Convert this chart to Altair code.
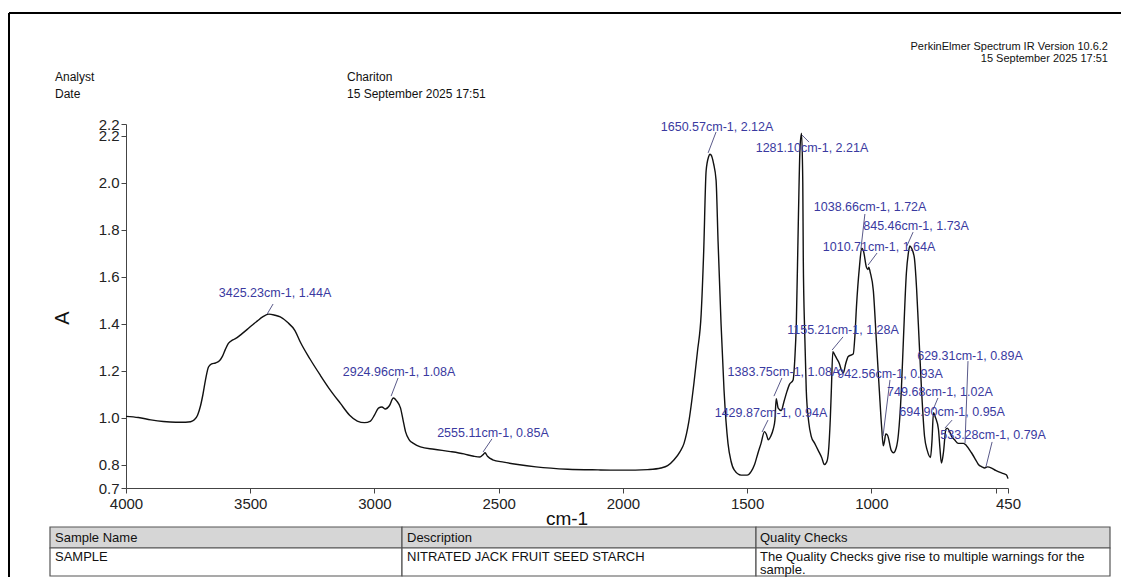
import altair as alt
import pandas as pd

# ---------------- spectrum (wavenumber cm-1, absorbance A) ----------------
wavenumber = [
    4000, 3950, 3900, 3850, 3800, 3760, 3740, 3725, 3712, 3700, 3690, 3680, 3668, 3655,
    3640, 3625, 3612, 3600, 3588, 3570, 3553, 3535, 3512, 3490, 3472, 3450, 3425, 3400,
    3379, 3350, 3320, 3298, 3260, 3218, 3180, 3137, 3100, 3069, 3040, 3016, 3000, 2984,
    2970, 2956, 2940, 2924, 2910, 2895, 2885, 2875, 2860, 2843, 2815, 2760, 2694, 2640,
    2600, 2575, 2560, 2555, 2545, 2524, 2480, 2423, 2350, 2222, 2100, 2020, 1950, 1900,
    1847, 1820, 1794, 1770, 1754, 1735, 1714, 1700, 1685, 1675, 1665, 1655, 1650, 1645,
    1635, 1625, 1617, 1605, 1593, 1577, 1565, 1552, 1524, 1500, 1484, 1470, 1456, 1444,
    1430, 1423, 1415, 1405, 1395, 1388, 1383, 1375, 1363, 1351, 1340, 1330, 1315, 1308,
    1302, 1294, 1287, 1281, 1276, 1274, 1268, 1262, 1252, 1242, 1228, 1214, 1200, 1189,
    1180, 1173, 1165, 1161, 1155, 1149, 1139, 1129, 1120, 1113, 1103, 1093, 1073, 1066,
    1060, 1048, 1039, 1032, 1020, 1014, 1010, 1005, 992, 980, 968, 958, 952, 947,
    942, 935, 920, 911, 900, 891, 880, 871, 859, 851, 845, 838, 827, 818,
    811, 798, 786, 775, 762, 756, 750, 742, 730, 724, 718, 710, 700, 695,
    685, 677, 665, 650, 629, 617, 597, 580, 569, 555, 544, 533, 516, 500,
    476, 465, 456, 450,
]
absorbance = [
    1.005, 1.000, 0.990, 0.983, 0.980, 0.980, 0.982, 0.990, 1.010, 1.050, 1.100, 1.160, 1.215, 1.228,
    1.232, 1.240, 1.260, 1.290, 1.315, 1.330, 1.340, 1.355, 1.375, 1.395, 1.410, 1.428, 1.440, 1.435,
    1.428, 1.405, 1.370, 1.320, 1.250, 1.180, 1.120, 1.060, 1.010, 0.985, 0.978, 0.985, 1.010, 1.040,
    1.045, 1.036, 1.050, 1.083, 1.070, 1.040, 0.990, 0.940, 0.905, 0.890, 0.875, 0.865, 0.855, 0.845,
    0.835, 0.832, 0.845, 0.850, 0.835, 0.820, 0.810, 0.800, 0.790, 0.780, 0.777, 0.776, 0.776, 0.778,
    0.785, 0.795, 0.820, 0.855, 0.890, 0.980, 1.147, 1.280, 1.440, 1.700, 2.050, 2.110, 2.120, 2.117,
    2.080, 2.010, 1.750, 1.400, 1.117, 0.890, 0.815, 0.777, 0.755, 0.755, 0.770, 0.800, 0.850, 0.890,
    0.940, 0.930, 0.905, 0.920, 0.950, 0.990, 1.080, 1.040, 1.030, 1.070, 1.110, 1.140, 1.160, 1.250,
    1.400, 1.830, 2.150, 2.210, 2.000, 1.680, 1.350, 1.117, 0.980, 0.920, 0.890, 0.860, 0.830, 0.800,
    0.810, 0.850, 1.000, 1.117, 1.280, 1.270, 1.250, 1.230, 1.200, 1.190, 1.230, 1.260, 1.270, 1.350,
    1.470, 1.640, 1.720, 1.710, 1.640, 1.630, 1.640, 1.620, 1.540, 1.330, 1.117, 0.950, 0.880, 0.900,
    0.930, 0.925, 0.860, 0.850, 0.870, 0.930, 1.100, 1.330, 1.615, 1.700, 1.730, 1.720, 1.680, 1.550,
    1.400, 1.117, 0.920, 0.860, 0.830, 0.900, 1.020, 1.000, 0.950, 0.870, 0.806, 0.850, 0.950, 0.955,
    0.940, 0.920, 0.905, 0.890, 0.890, 0.880, 0.850, 0.820, 0.800, 0.790, 0.785, 0.790, 0.785, 0.775,
    0.764, 0.760, 0.755, 0.740,
]

# ---------------- labelled peaks ----------------
peak_wn = [3425.23, 2924.96, 2555.11, 1650.57, 1281.10, 1038.66, 845.46, 1010.71,
           1155.21, 1383.75, 942.56, 629.31, 749.68, 694.90, 533.28, 1429.87]
peak_abs = [1.44, 1.08, 0.85, 2.12, 2.21, 1.72, 1.73, 1.64,
            1.28, 1.08, 0.93, 0.89, 1.02, 0.95, 0.79, 0.94]
# label anchor (data units)
label_wn = [3400, 2901, 2523, 1621, 1239, 1005, 820, 969,
            1114, 1352, 925, 603, 724, 675, 510, 1404]
label_abs = [1.530, 1.194, 0.934, 2.236, 2.147, 1.896, 1.815, 1.726,
             1.372, 1.194, 1.185, 1.262, 1.109, 1.023, 0.926, 1.019]
# leader lines (data units)
lead_x1 = [3408, 2905, 2527, 1625, 1279, 1026, 832, 977, 1114, 1360, 925, 611, 732, 675, 514, 1416]
lead_y1 = [1.483, 1.168, 0.909, 2.215, 2.202, 1.866, 1.789, 1.700, 1.343, 1.168, 1.160, 1.240, 1.083, 0.989, 0.896, 0.989]
lead_x2 = [3432, 2933, 2563, 1657, 1251, 1042, 857, 1013, 1158, 1392, 953, 623, 752, 704, 539, 1440]
lead_y2 = [1.440, 1.091, 0.853, 2.126, 2.172, 1.717, 1.730, 1.649, 1.287, 1.091, 0.921, 0.891, 1.032, 0.955, 0.789, 0.938]

x_ticks = [4000, 3500, 3000, 2500, 2000, 1500, 1000, 500, 450]
y_ticks = [0.7, 0.8, 1.0, 1.2, 1.4, 1.6, 1.8, 2.0, 2.2, 2.249]

spec = pd.DataFrame({"wn": wavenumber, "A": absorbance})
peaks = pd.DataFrame({
    "lx": label_wn, "ly": label_abs,
    "txt": [f"{w:.2f}cm-1, {a:.2f}A" for w, a in zip(peak_wn, peak_abs)],
})
leads = pd.DataFrame({"x1": lead_x1, "y1": lead_y1, "x2": lead_x2, "y2": lead_y2})

FONT = "Liberation Sans"
xs = alt.Scale(domain=[450, 4000], reverse=True, nice=False, zero=False)
ys = alt.Scale(domain=[0.7, 2.249], nice=False, zero=False)
xa = alt.Axis(values=x_ticks, format="d", title=None, grid=False,
              labelExpr="datum.value == 500 ? '' : datum.label",
              labelFlush=False, labelOverlap=False, labelFontSize=15, labelFont=FONT,
              labelColor="#222", tickSize=5, tickColor="#444", domainColor="#444",
              labelPadding=3)
ya = alt.Axis(values=y_ticks, format=".1f", title=None, grid=False,
              labelFlush=False, labelOverlap=False, labelFontSize=15, labelFont=FONT,
              labelColor="#222", tickSize=5, tickColor="#444", domainColor="#444",
              labelPadding=2)


def X(f):
    return alt.X(f, type="quantitative", scale=xs, axis=xa)


def Y(f):
    return alt.Y(f, type="quantitative", scale=ys, axis=ya)


line = alt.Chart(spec).mark_line(color="#111", strokeWidth=1.4, interpolate="monotone").encode(
    x=X("wn"), y=Y("A"))

leaders = alt.Chart(leads).mark_rule(color="#5a5a8a", strokeWidth=1).encode(
    x=X("x1"), x2="x2:Q", y=Y("y1"), y2="y2:Q")

labels = alt.Chart(peaks).mark_text(font=FONT, fontSize=12.5, color="#3a3aa0",
                                    align="center", baseline="middle").encode(
    x=X("lx"), y=Y("ly"), text="txt:N")


def txt(s, x, y, size=12, align="left", **kw):
    return alt.Chart(pd.DataFrame({"t": [s]})).mark_text(
        font=FONT, fontSize=size, align=align, baseline="middle", color="#111", **kw
    ).encode(x=alt.value(x), y=alt.value(y), text="t:N")


def box(x, x2, y, y2, fill):
    return alt.Chart(pd.DataFrame({"t": [0]})).mark_rect(
        fill=fill, stroke="#555", strokeWidth=1.2
    ).encode(x=alt.value(x), x2=alt.value(x2), y=alt.value(y), y2=alt.value(y2))


def hline(x, x2, y, w=2):
    return alt.Chart(pd.DataFrame({"t": [0]})).mark_rule(color="#000", strokeWidth=w).encode(
        x=alt.value(x), x2=alt.value(x2), y=alt.value(y))


def vline(x, y, y2, w=2):
    return alt.Chart(pd.DataFrame({"t": [0]})).mark_rule(color="#000", strokeWidth=w).encode(
        x=alt.value(x), y=alt.value(y), y2=alt.value(y2))


deco = [
    hline(-117, 995, -111),
    vline(-117, -111, 453),
    txt("PerkinElmer Spectrum IR Version 10.6.2", 982, -77, size=11, align="right"),
    txt("15 September 2025 17:51", 982, -65, size=11, align="right"),
    txt("Analyst", -71, -47),
    txt("Date", -71, -30),
    txt("Chariton", 221, -47),
    txt("15 September 2025 17:51", 221, -30),
    txt("A", -63, 194, size=20, angle=270, align="center"),
    txt("cm-1", 441, 395, size=19, align="center"),
    # table
    box(-76, 276, 403, 424, "#d6d6d6"),
    box(276, 630, 403, 424, "#d6d6d6"),
    box(630, 984, 403, 424, "#d6d6d6"),
    box(-76, 276, 424, 452, "#ffffff"),
    box(276, 630, 424, 452, "#ffffff"),
    box(630, 984, 424, 452, "#ffffff"),
    txt("Sample Name", -71, 414, size=13),
    txt("Description", 281, 414, size=13),
    txt("Quality Checks", 634, 414, size=13),
    txt("SAMPLE", -71, 433, size=13),
    txt("NITRATED JACK FRUIT SEED STARCH", 281, 433, size=13),
    txt("The Quality Checks give rise to multiple warnings for the", 634, 433, size=13),
    txt("sample.", 634, 446, size=13),
]

chart = alt.layer(line, leaders, labels, *deco).properties(
    width=882, height=364,
    padding={"left": 118, "top": 116, "right": 113, "bottom": 89},
    autosize=alt.AutoSizeParams(type="none"),
    background="white",
).configure(font=FONT).configure_view(stroke="transparent", strokeWidth=0)

chart.save("out.html", embed_options={"renderer": "svg", "actions": False})
